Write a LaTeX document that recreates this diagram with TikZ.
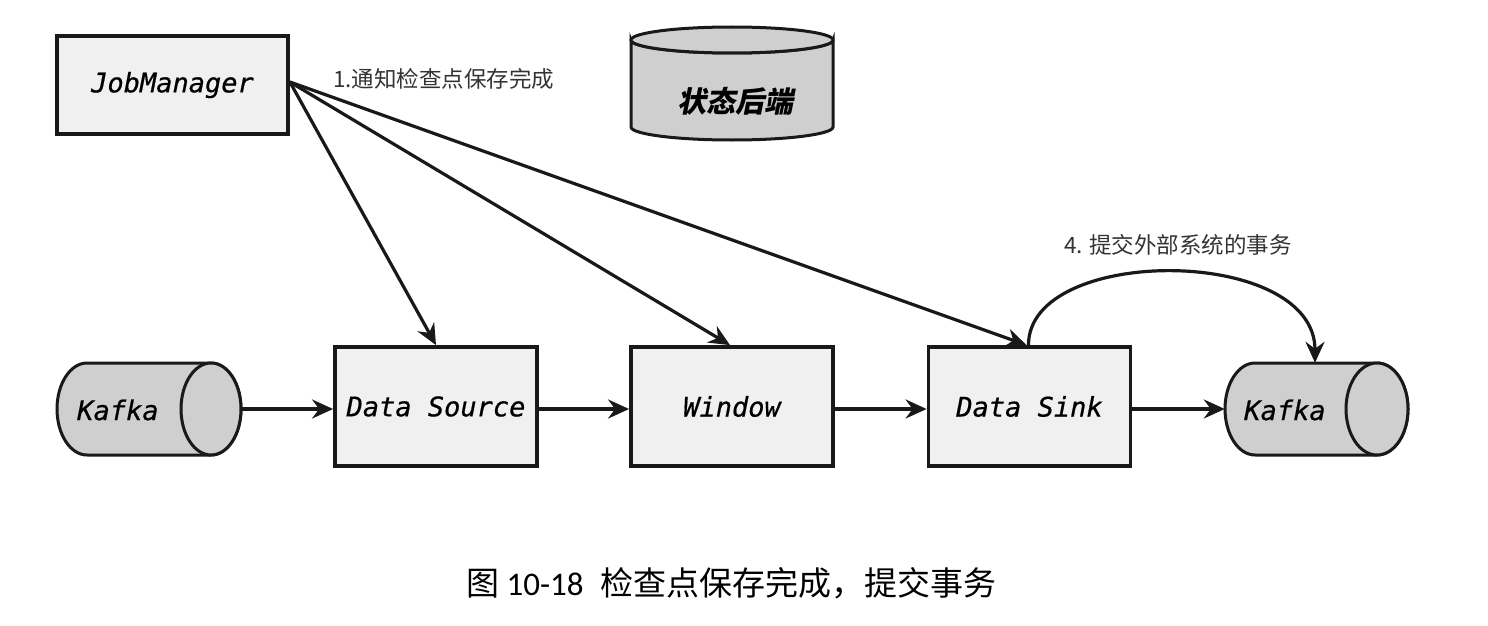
\documentclass[tikz,border=0pt]{standalone}
\usepackage{fontspec}
\usetikzlibrary{arrows.meta}
\newfontfamily\cjk{Noto Sans CJK SC}
\newfontfamily\cjkslant{Noto Sans CJK SC}[FakeSlant=0.2]
\newfontfamily\monofam{DejaVu Sans Mono}[FakeBold=0.6]
\newfontfamily\capdigits{Carlito}
\definecolor{boxfill}{HTML}{F0F0F0}
\definecolor{cylfill}{HTML}{D0CFD0}
\definecolor{labelgray}{HTML}{333333}
\tikzset{
  opbox/.style={draw=black!90, line width=3.8pt, fill=boxfill, minimum width=202pt, minimum height=119pt, inner sep=0pt, font=\monofam\itshape\fontsize{27}{30}\selectfont},
  cyl/.style={draw=black!90, line width=3pt, fill=cylfill},
  conn/.style={line width=3.2pt, draw=black!90, -{Stealth[length=21pt,width=19pt,inset=7pt]}},
  lbl/.style={font=\cjk\fontsize{22.5}{26}\selectfont, text=labelgray, inner sep=0pt}
}
\begin{document}
\begin{tikzpicture}[x=1pt,y=-1pt]
\useasboundingbox (0,0) rectangle (1488,626);
% Job manager
\node[opbox, minimum width=231pt, minimum height=98pt] (jm) at (172.5,85) {\raisebox{-3pt}{JobManager}};
% state backend cylinder (vertical)
\path[cyl] (631,40) -- (631,127) arc[start angle=180, end angle=0, x radius=101, y radius=13] -- (833,40) arc[start angle=0, end angle=180, x radius=101, y radius=13] -- cycle;
\draw[cyl] (732,40) ellipse [x radius=101, y radius=13];
\node[font=\cjkslant\bfseries\fontsize{29}{32}\selectfont, inner sep=0pt] (sb) at (735,101) {状态后端};
% Kafka left
\path[cyl] (87,363) -- (211,363) arc[start angle=-90, end angle=90, x radius=30, y radius=46] -- (87,455) arc[start angle=90, end angle=270, x radius=30, y radius=46] -- cycle;
\draw[cyl] (211,409) ellipse [x radius=30, y radius=46];
\node[minimum width=184pt, minimum height=92pt, inner sep=0pt] (k1) at (149,409) {};
\node[font=\monofam\itshape\fontsize{27}{30}\selectfont, inner sep=0pt] (k1t) at (118,410) {Kafka};
% Kafka right
\path[cyl] (1255,363) -- (1377,363) arc[start angle=-90, end angle=90, x radius=31, y radius=46] -- (1255,455) arc[start angle=90, end angle=270, x radius=30, y radius=46] -- cycle;
\draw[cyl] (1377,409) ellipse [x radius=31, y radius=46];
\node[minimum width=183pt, minimum height=92pt, inner sep=0pt] (k2) at (1316.5,409) {};
\node[font=\monofam\itshape\fontsize{27}{30}\selectfont, inner sep=0pt] (k2t) at (1285,410) {Kafka};
% operator boxes
\node[opbox] (ds) at (436,406.5) {\raisebox{-3pt}{Data Source}};
\node[opbox] (win) at (732,406.5) {\raisebox{-3pt}{Window}};
\node[opbox] (sink) at (1029.5,406.5) {\raisebox{-3pt}{Data Sink}};
% pipeline arrows
\draw[conn] (k1.east) -- (ds.west |- k1.east);
\draw[conn] (ds.east |- k1.east) -- (win.west |- k1.east);
\draw[conn] (win.east |- k1.east) -- (sink.west |- k1.east);
\draw[conn] (sink.east |- k1.east) -- (k2.west);
% notify arrows
\coordinate (jmo) at ([yshift=3pt]jm.east);
\draw[conn] (jmo) -- (ds.north);
\draw[conn] (jmo) -- ([xshift=-2pt]win.north);
\draw[conn] (jmo) -- ([xshift=-3pt]sink.north);
\node[lbl, anchor=west] (l1) at (333,79) {1.通知检查点保存完成};
% commit arrow
\draw[conn] ([xshift=-1pt]sink.north) .. controls (1028,245) and (1315,245) .. ([xshift=-1.5pt]k2.north);
\node[lbl] (l4) at (1178,245) {4. 提交外部系统的事务};
% caption
\node[font=\cjk\fontsize{33}{37}\selectfont, inner sep=0pt, anchor=west] (cap) at (466,583) {图 {\capdigits 10-18}\hspace{0.5em}检查点保存完成，提交事务};
\end{tikzpicture}
\end{document}
